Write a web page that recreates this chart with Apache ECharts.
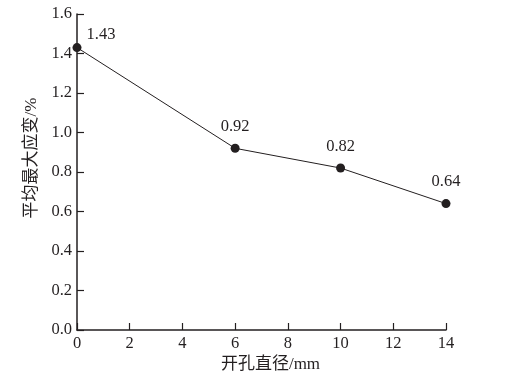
<!DOCTYPE html>
<html><head><meta charset="utf-8">
<script src="https://cdn.jsdelivr.net/npm/echarts@6/dist/echarts.min.js"></script>
<style>html,body{margin:0;padding:0;background:#fff}#c{width:510px;height:382px}</style>
</head><body><div id="c"></div>
<script>
var xValues = [0, 6, 10, 14];
var yValues = [1.43, 0.92, 0.82, 0.64];
var xTicks = [0, 2, 4, 6, 8, 10, 12, 14];
var yTicks = [0.0, 0.2, 0.4, 0.6, 0.8, 1.0, 1.2, 1.4, 1.6];

var col = '#231f20';
var font = '"Liberation Serif", "Times New Roman", "Noto Sans CJK SC", serif';
var data = xValues.map(function (x, i) {
  var d = { value: [x, yValues[i]] };
  if (i === 0) d.label = { position: 'top', offset: [24, 9] };
  return d;
});
var chart = echarts.init(document.getElementById('c'));
chart.setOption({
  animation: false,
  grid: { left: 77, right: 64, top: 14, bottom: 52, containLabel: false },
  xAxis: {
    type: 'value', min: 0, max: 14, interval: 2,
    name: '开孔直径/mm', nameLocation: 'middle', nameGap: 23,
    nameTextStyle: { color: col, fontSize: 17, fontFamily: font, padding: [0, 0, 0, 18] },
    axisLine: { show: true, lineStyle: { color: col, width: 1.5 } },
    axisTick: { show: true, inside: true, length: 7, lineStyle: { color: col, width: 1.2 } },
    axisLabel: { color: col, fontSize: 16.5, fontFamily: font, margin: 5 },
    splitLine: { show: false }
  },
  yAxis: {
    type: 'value', min: 0, max: 1.6, interval: 0.2,
    name: '平均最大应变/%', nameLocation: 'middle', nameGap: 34,
    nameTextStyle: { color: col, fontSize: 17, fontFamily: font, padding: [0, 0, 0, 28] },
    axisLine: { show: true, lineStyle: { color: col, width: 1.5 } },
    axisTick: { show: true, inside: true, length: 7, lineStyle: { color: col, width: 1.2 } },
    axisLabel: { color: col, fontSize: 16.5, fontFamily: font, margin: 5,
      formatter: function (v) { return v.toFixed(1); } },
    splitLine: { show: false }
  },
  series: [{
    type: 'line', data: data,
    symbol: 'circle', symbolSize: 9,
    itemStyle: { color: col },
    lineStyle: { color: col, width: 1 },
    label: { show: true, position: 'top', distance: 9, color: col, fontSize: 16.5, fontFamily: font,
      formatter: function (p) { return p.value[1].toFixed(2); } }
  }]
});
</script></body></html>
